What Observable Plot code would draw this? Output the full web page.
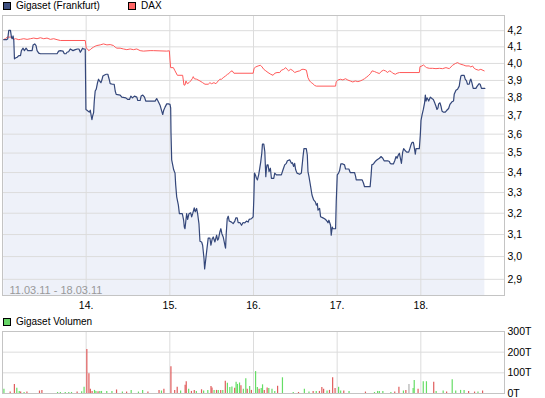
<!DOCTYPE html>
<html><head><meta charset="utf-8">
<script src="https://cdn.jsdelivr.net/npm/d3@7"></script>
<script src="https://cdn.jsdelivr.net/npm/@observablehq/plot@0.6"></script>
<style>
body{margin:0;background:#fff;font-family:"Liberation Sans",Arial,sans-serif;}
#wrap{position:relative;width:545px;height:398px;overflow:hidden;background:#fff;}
#main{position:absolute;left:0;top:0;}
#vol{position:absolute;left:0;top:312px;}
.leg{position:absolute;font-size:10px;line-height:12px;color:#000;display:flex;align-items:center;white-space:nowrap;}
.sw{display:inline-block;width:6px;height:6px;border:1px solid #000;margin-right:5px;}
</style></head><body>
<div id="wrap">
  <div id="main"></div>
  <div id="vol"></div>
  <div class="leg" style="left:3px;top:0px"><span class="sw" style="background:#3d4f80"></span>Gigaset (Frankfurt)</div>
  <div class="leg" style="left:128px;top:0px"><span class="sw" style="background:#ff6666"></span>DAX</div>
  <div class="leg" style="left:3px;top:316px"><span class="sw" style="background:#66d466"></span>Gigaset Volumen</div>
</div>
<script>
// trading-day index: 0 = 11.03., 1 = 14.03., 2 = 15.03., 3 = 16.03., 4 = 17.03., 5 = 18.03.
const dayTicks = [1, 2, 3, 4, 5];
const dayLabels = ["14.", "15.", "16.", "17.", "18."];
const yTicks = [2.9, 3.0, 3.1, 3.2, 3.3, 3.4, 3.5, 3.6, 3.7, 3.8, 3.9, 4.0, 4.1, 4.2];
const volTicks = [0, 100, 200, 300];
const dateRange = "11.03.11 - 18.03.11";

const priceT = [0.016,0.048,0.063,0.075,0.095,0.107,0.115,0.127,0.135,0.143,0.155,0.175,0.195,0.215,0.226,0.246,0.262,0.282,0.302,0.354,0.366,0.385,0.401,0.413,0.433,0.453,0.652,0.671,0.691,0.723,0.739,0.759,0.771,0.790,0.810,0.843,0.870,0.897,0.914,0.930,0.942,0.957,0.969,0.989,
0.997,1.009,1.021,1.037,1.049,1.061,1.069,1.077,1.089,1.097,1.108,1.120,1.136,1.148,1.160,1.176,1.188,1.200,1.220,1.240,1.259,1.275,1.287,1.315,1.335,1.347,1.359,1.406,1.426,1.474,1.498,1.518,1.534,1.553,1.577,1.605,1.617,1.645,1.657,1.677,1.697,1.712,1.824,1.843,1.863,1.883,1.903,1.915,1.927,1.943,1.963,1.982,2.002,
2.010,2.014,2.022,2.034,2.046,2.062,2.070,2.082,2.102,2.114,2.149,2.165,2.173,2.181,2.189,2.201,2.213,2.229,2.249,2.261,2.273,2.292,2.304,2.320,2.332,2.348,2.360,2.380,2.392,2.408,2.416,2.423,2.439,2.459,2.479,2.491,2.507,2.519,2.539,2.559,2.571,2.582,2.598,2.610,2.622,2.638,2.658,2.666,2.674,2.686,2.698,2.710,2.737,2.757,2.777,2.789,2.805,2.817,2.837,2.857,2.876,2.896,2.916,2.936,2.948,2.976,2.996,
3.004,3.012,3.023,3.035,3.047,3.063,3.075,3.087,3.099,3.107,3.123,3.135,3.147,3.155,3.162,3.174,3.186,3.202,3.214,3.242,3.254,3.274,3.333,3.353,3.373,3.393,3.405,3.433,3.453,3.465,3.480,3.492,3.504,3.520,3.552,3.572,3.592,3.603,3.631,3.643,3.651,3.663,3.683,3.699,3.719,3.739,3.751,3.763,3.771,3.790,3.802,3.830,3.850,3.870,3.890,3.901,3.921,3.929,3.941,3.949,3.981,
3.989,4.001,4.017,4.029,4.044,4.068,4.088,4.100,4.140,4.156,4.207,4.219,4.228,4.299,4.315,4.327,4.394,4.406,4.414,4.434,4.454,4.478,4.505,4.526,4.545,4.561,4.604,4.624,4.633,4.645,4.672,4.688,4.704,4.716,4.732,4.744,4.756,4.768,4.783,4.795,4.815,4.831,4.855,4.871,4.883,4.895,4.911,4.923,4.934,4.943,4.982,4.994,
5.002,5.014,5.030,5.045,5.054,5.062,5.074,5.086,5.094,5.113,5.133,5.149,5.161,5.181,5.193,5.205,5.213,5.229,5.241,5.253,5.268,5.292,5.308,5.332,5.348,5.372,5.391,5.399,5.420,5.439,5.459,5.467,5.479,5.491,5.518,5.530,5.546,5.558,5.578,5.590,5.598,5.610,5.626,5.658,5.674,5.697,5.709,5.725,5.765];
const priceV = [4.144,4.144,4.150,4.202,4.202,4.160,4.150,4.167,4.139,4.027,4.032,4.037,4.047,4.047,4.077,4.092,4.077,4.092,4.077,4.077,4.112,4.118,4.108,4.077,4.062,4.058,4.058,4.074,4.077,4.074,4.058,4.058,4.067,4.070,4.087,4.077,4.083,4.087,4.087,4.067,4.077,4.092,4.087,4.087,
3.735,3.731,3.726,3.720,3.731,3.698,3.679,3.698,3.717,3.782,3.839,3.849,3.887,3.907,3.897,3.887,3.902,3.926,3.932,3.936,3.936,3.907,3.881,3.878,3.878,3.839,3.820,3.816,3.804,3.800,3.791,3.791,3.810,3.800,3.810,3.804,3.785,3.785,3.810,3.816,3.804,3.782,3.782,3.796,3.778,3.759,3.726,3.707,3.731,3.748,3.766,3.766,3.763,
3.744,3.606,3.465,3.439,3.414,3.397,3.338,3.279,3.239,3.198,3.198,3.167,3.135,3.127,3.155,3.198,3.171,3.198,3.202,3.183,3.198,3.226,3.207,3.223,3.198,3.151,3.069,3.066,3.051,2.993,2.945,2.967,3.020,3.084,3.084,3.051,3.081,3.089,3.066,3.097,3.074,3.081,3.112,3.127,3.104,3.089,3.051,3.038,3.104,3.174,3.186,3.163,3.158,3.151,3.163,3.178,3.178,3.155,3.156,3.143,3.156,3.154,3.163,3.158,3.171,3.174,3.183,
3.271,3.397,3.388,3.371,3.363,3.391,3.422,3.456,3.499,3.547,3.547,3.508,3.379,3.422,3.439,3.439,3.405,3.422,3.371,3.371,3.397,3.388,3.388,3.414,3.439,3.447,3.460,3.465,3.447,3.450,3.431,3.447,3.414,3.397,3.391,3.397,3.482,3.523,3.523,3.490,3.405,3.379,3.329,3.288,3.264,3.255,3.239,3.247,3.215,3.223,3.183,3.178,3.174,3.167,3.155,3.167,3.143,3.097,3.135,3.127,3.127,
3.255,3.388,3.397,3.410,3.444,3.444,3.439,3.418,3.418,3.400,3.400,3.383,3.363,3.363,3.346,3.329,3.329,3.388,3.439,3.444,3.456,3.465,3.473,3.482,3.473,3.460,3.460,3.456,3.447,3.444,3.444,3.460,3.482,3.473,3.491,3.499,3.473,3.447,3.505,3.523,3.512,3.505,3.505,3.526,3.544,3.556,3.556,3.526,3.494,3.523,3.523,3.597,
3.674,3.703,3.735,3.772,3.816,3.782,3.800,3.791,3.782,3.804,3.796,3.791,3.778,3.753,3.735,3.744,3.766,3.772,3.753,3.726,3.720,3.720,3.729,3.740,3.763,3.778,3.782,3.820,3.843,3.849,3.867,3.893,3.926,3.930,3.930,3.907,3.897,3.878,3.878,3.902,3.907,3.887,3.854,3.854,3.867,3.881,3.878,3.854,3.854];

// DAX, rebased to the Gigaset start value
const daxT = [0.016,0.036,0.056,0.095,0.115,0.135,0.155,0.195,0.214,0.254,0.294,0.334,0.373,0.413,0.453,0.493,0.532,0.572,0.612,0.652,0.691,0.989,
1.001,1.017,1.029,1.049,1.069,1.088,1.108,1.128,1.168,1.207,1.248,1.287,1.327,1.347,1.367,1.406,1.446,1.486,1.526,1.565,1.605,1.645,1.684,1.764,1.803,1.963,1.994,
2.002,2.010,2.042,2.062,2.090,2.153,2.169,2.181,2.193,2.209,2.229,2.249,2.268,2.280,2.292,2.320,2.360,2.392,2.420,2.459,2.479,2.499,2.527,2.551,2.578,2.598,2.618,2.638,2.666,2.690,2.706,2.726,2.745,2.766,2.996,
3.007,3.027,3.055,3.083,3.103,3.123,3.147,3.174,3.206,3.234,3.254,3.281,3.313,3.334,3.361,3.385,3.401,3.421,3.441,3.465,3.492,3.520,3.552,3.579,3.603,3.632,3.651,3.671,3.691,3.710,3.731,3.751,3.981,
3.989,4.008,4.037,4.068,4.100,4.128,4.156,4.187,4.216,4.247,4.275,4.299,4.327,4.354,4.378,4.398,4.418,4.446,4.473,4.505,4.525,4.553,4.577,4.604,4.624,4.645,4.664,4.696,4.716,4.744,4.982,
4.990,5.014,5.030,5.054,5.069,5.101,5.141,5.181,5.221,5.260,5.300,5.340,5.379,5.411,5.439,5.459,5.479,5.507,5.539,5.578,5.598,5.618,5.638,5.658,5.689,5.717,5.757];
const daxV = [4.146,4.150,4.160,4.160,4.154,4.146,4.150,4.144,4.146,4.150,4.146,4.150,4.154,4.150,4.156,4.150,4.154,4.146,4.150,4.144,4.139,4.139,
4.092,4.087,4.077,4.083,4.092,4.098,4.104,4.108,4.112,4.118,4.112,4.114,4.108,4.098,4.092,4.092,4.087,4.083,4.087,4.083,4.087,4.077,4.074,4.077,4.077,4.074,4.076,
4.020,3.975,3.975,3.956,3.930,3.930,3.873,3.873,3.897,3.881,3.887,3.897,3.910,3.922,3.910,3.907,3.897,3.887,3.878,3.878,3.887,3.881,3.887,3.881,3.897,3.907,3.907,3.916,3.926,3.936,3.940,3.952,3.956,3.942,3.942,
3.971,3.979,3.985,3.989,3.979,3.965,3.956,3.946,3.936,3.930,3.942,3.946,3.946,3.960,3.965,3.975,3.965,3.956,3.965,3.960,3.946,3.952,3.956,3.965,3.965,3.960,3.916,3.897,3.887,3.881,3.871,3.867,3.867,
3.893,3.902,3.907,3.903,3.910,3.902,3.897,3.891,3.897,3.893,3.897,3.902,3.910,3.920,3.930,3.940,3.956,3.952,3.946,3.940,3.952,3.960,3.956,3.946,3.956,3.952,3.942,3.936,3.942,3.946,3.946,
3.981,3.985,3.991,3.981,3.975,3.971,3.971,3.969,3.971,3.969,3.975,3.969,3.989,3.999,4.005,3.999,3.995,3.991,3.985,3.985,3.979,3.985,3.971,3.965,3.960,3.965,3.956];

// volume in thousands of shares (T); dir: tick direction
const volT = [0.017,0.092,0.142,0.171,0.200,0.217,0.258,0.292,0.442,0.471,0.658,0.692,0.750,0.792,0.825,0.892,0.946,0.975,
1.008,1.033,1.050,1.071,1.100,1.117,1.142,1.163,1.183,1.246,1.308,1.363,1.433,1.483,1.538,1.625,1.675,1.738,1.871,1.900,1.929,
2.013,2.058,2.088,2.129,2.183,2.196,2.225,2.258,2.292,2.317,2.379,2.404,2.454,2.492,2.504,2.529,2.558,2.579,2.608,2.633,2.663,2.688,2.717,2.742,2.775,2.792,2.808,2.833,2.850,2.879,2.908,2.925,2.954,2.975,
3.025,3.046,3.067,3.092,3.108,3.129,3.163,3.183,3.221,3.254,3.288,3.346,3.475,3.538,3.608,3.663,3.713,3.750,3.788,3.817,3.838,3.879,3.908,3.946,3.975,
4.017,4.042,4.079,4.142,4.338,4.446,4.483,4.504,4.546,4.642,4.688,4.738,4.792,4.821,4.858,4.908,4.921,4.967,
5.029,5.067,5.154,5.183,5.267,5.308,5.375,5.417,5.475,5.517,5.571,5.642,5.683,5.738];
const volV = [20,7,44,25,10,7,5,7,12,15,5,5,5,5,5,7,8,30,
213,96,20,10,15,10,8,10,10,10,10,17,7,7,15,7,15,7,15,12,20,
130,15,30,12,40,57,20,10,14,10,18,12,15,34,27,15,15,15,15,14,59,49,29,32,25,54,44,51,37,20,71,20,34,15,
106,29,20,24,42,14,27,24,20,10,35,76,5,5,20,7,10,10,10,29,20,12,15,76,24,
30,12,12,10,7,5,10,10,10,5,7,30,12,15,44,24,63,20,
57,57,54,10,12,7,66,12,15,15,10,7,7,12];
const volDir = ["up","down","down","up","up","down","up","down","down","down","up","up","up","up","up","down","up","up",
"down","down","down","down","up","up","down","up","up","up","up","down","up","down","up","up","up","down","down","up","down",
"down","down","down","up","down","down","up","down","down","up","down","up","up","down","down","up","down","up","down","up","down","up","up","up","down","up","up","up","down","up","up","down","up","down",
"up","up","down","up","up","down","down","up","up","up","down","up","up","down","up","up","down","up","down","down","down","up","down","down","down",
"up","up","down","up","down","up","up","up","up","up","down","down","up","down","flat","up","up","down",
"up","up","down","up","up","down","up","up","up","up","down","down","up","down"];

const price = priceT.map((d, i) => ({d, v: priceV[i]}));
const dax = daxT.map((d, i) => ({d, v: daxV[i]}));
const vol = volT.map((d, i) => ({d, v: volV[i], dir: volDir[i]}));

const yMin = 2.831, yMax = 4.296;
const gridColor = "#dcdcdc";
const frameColor = "#c4c4c4";
const fontStyle = {fontFamily: "'Liberation Sans', Arial, sans-serif", fontSize: "10.5px", background: "transparent", color: "#000", overflow: "visible"};

const main = Plot.plot({
  width: 545, height: 312,
  marginLeft: 2, marginRight: 41, marginTop: 15, marginBottom: 17,
  style: fontStyle,
  x: {domain: [0, 6], axis: null, label: null},
  y: {type: "log", domain: [yMin, yMax], axis: null, label: null},
  marks: [
    Plot.areaY(price, {x: "d", y1: yMin, y2: "v", fill: "#eef1f9"}),
    Plot.gridY(yTicks, {stroke: gridColor, strokeOpacity: 1}),
    Plot.gridX(dayTicks, {stroke: gridColor, strokeOpacity: 1}),
    Plot.lineY(dax, {x: "d", y: "v", stroke: "#ff5a5a", strokeWidth: 1}),
    Plot.lineY(price, {x: "d", y: "v", stroke: "#34477a", strokeWidth: 1.2}),
    Plot.frame({stroke: frameColor}),
    Plot.axisY(yTicks, {anchor: "right", label: null, tickSize: 0, tickPadding: 3, tickFormat: d => d.toFixed(1).replace(".", ",")}),
    Plot.axisX(dayTicks, {anchor: "bottom", label: null, tickSize: 0, tickPadding: 6, tickFormat: d => dayLabels[dayTicks.indexOf(d)]}),
    Plot.text([dateRange], {frameAnchor: "bottom-left", dx: 7, dy: -2, fill: "#999", fontSize: 11})
  ]
});
document.getElementById("main").appendChild(main);

const volume = Plot.plot({
  width: 545, height: 86,
  marginLeft: 2, marginRight: 41, marginTop: 19, marginBottom: 5,
  style: fontStyle,
  x: {domain: [0, 6], axis: null, label: null},
  y: {domain: [0, 300], axis: null, label: null},
  color: {domain: ["up", "down", "flat"], range: ["#66dd66", "#e05c5c", "#b0b0b0"]},
  marks: [
    Plot.gridY(volTicks, {stroke: gridColor, strokeOpacity: 1}),
    Plot.gridX(dayTicks, {stroke: gridColor, strokeOpacity: 1}),
    Plot.ruleX(vol, {x: "d", y1: 0, y2: "v", stroke: "dir", strokeWidth: 1.2}),
    Plot.frame({stroke: frameColor}),
    Plot.axisY(volTicks, {anchor: "right", label: null, tickSize: 0, tickPadding: 3, tickFormat: d => d + "T"})
  ]
});
document.getElementById("vol").appendChild(volume);
</script>
</body></html>
